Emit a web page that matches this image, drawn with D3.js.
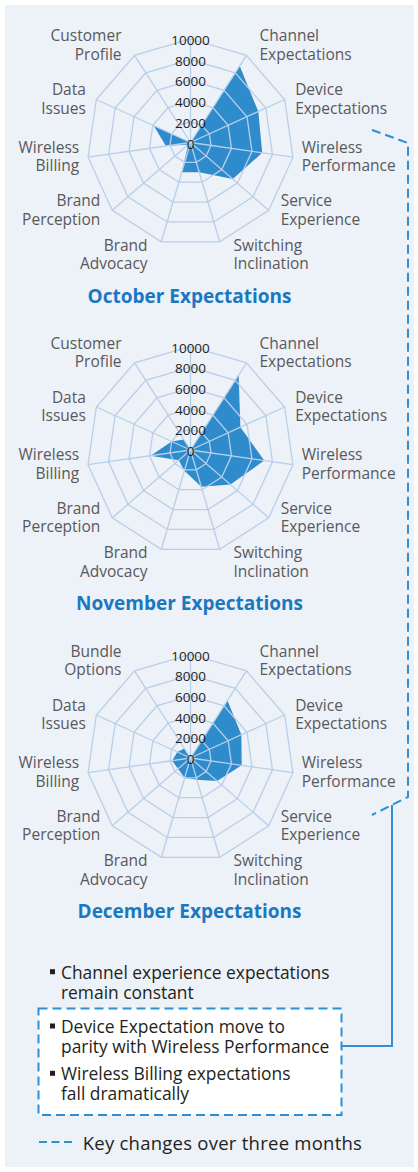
<!DOCTYPE html>
<html><head><meta charset="utf-8">
<script src="https://cdn.jsdelivr.net/npm/d3@7"></script>
<style>
html,body{margin:0;padding:0;background:#fff;}
svg{display:block;font-family:"Open Sans",sans-serif;}
</style></head><body>
<svg id="c" width="418" height="1172"></svg>
<script>
// ---- data ----
const axisLabels = [[""],["Channel","Expectations"],["Device","Expectations"],["Wireless","Performance"],["Service","Experience"],["Switching","Inclination"],["Brand","Advocacy"],["Brand","Perception"],["Wireless","Billing"],["Data","Issues"],["Customer","Profile"]];
const decemberLastLabel = ["Bundle","Options"];
// order: top, Channel, Device, Wireless Perf, Service, Switching, Brand Advocacy, Brand Perception, Wireless Billing, Data Issues, Customer Profile/Bundle
const octoberValues  = [0, 8800, 7200, 7000, 5400, 3000, 3000, 300, 2400, 3900, 0];
const novemberValues = [0, 8600, 5300, 7200, 5100, 3700, 2100, 1500, 3900, 2000, 1200];
const decemberValues = [0, 6600, 5400, 5000, 3400, 2200, 2000, 1600, 1800, 1400, 1100];
const tickValues = [0, 2000, 4000, 6000, 8000, 10000];
const chartTitles = ["October Expectations", "November Expectations", "December Expectations"];
const bulletTexts = [["Channel experience expectations","remain constant"],["Device Expectation move to","parity with Wireless Performance"],["Wireless Billing expectations","fall dramatically"]];
const legendText = "Key changes over three months";

// ---- drawing ----
const svg = d3.select("#c");
svg.append("rect").attr("x",5).attr("y",5).attr("width",409).attr("height",1162).attr("fill","#edf1f8");

const charts = [
  {title: chartTitles[0], values: octoberValues, labels: axisLabels},
  {title: chartTitles[1], values: novemberValues, labels: axisLabels},
  {title: chartTitles[2], values: decemberValues, labels: axisLabels.slice(0,10).concat([decemberLastLabel])}
];
const R = 103.5, cx = 190.5, cys = [142.5, 450, 758];
const n = axisLabels.length;
const ang = i => i * 2 * Math.PI / n;
const rScale = d3.scaleLinear().domain([0, 10000]).range([0, R]);
const radial = d3.lineRadial().angle((d,i) => ang(i)).radius(d => rScale(d)).curve(d3.curveLinearClosed);
const gridColor = "#b8cfea";

charts.forEach((ch, k) => {
  const g = svg.append("g").attr("transform", `translate(${cx},${cys[k]})`);
  g.append("path").attr("d", radial(ch.values)).attr("fill", "#2e8bcc");
  tickValues.slice(1).forEach(t => {
    g.append("path").attr("d", radial(d3.range(n).map(() => t)))
      .attr("fill","none").attr("stroke",gridColor).attr("stroke-width",1.3);
  });
  d3.range(n).forEach(i => {
    const a = ang(i);
    g.append("line").attr("x1",0).attr("y1",0)
      .attr("x2", rScale(10000)*Math.sin(a)).attr("y2", -rScale(10000)*Math.cos(a))
      .attr("stroke",gridColor).attr("stroke-width",1.3);
  });
  // axis labels
  ch.labels.forEach((lines, i) => {
    if (!lines[0]) return;
    const a = ang(i), s = Math.sin(a), c = Math.cos(a);
    const vx = R*s, vy = -R*c;
    const sg = s > 0 ? 1 : -1;
    const dx = sg * (8 + 6*Math.abs(c));
    const dy = c > 0.7 ? -11 : (c < -0.7 ? 12 : -1);
    const lh = 18.5;
    const t = g.append("text").attr("text-anchor", sg > 0 ? "start" : "end")
      .attr("font-size", 15.5).attr("fill", "#58595b");
    lines.forEach((ln, j) => {
      t.append("tspan").attr("x", vx+dx).attr("y", vy+dy + (j - (lines.length-1)/2)*lh)
        .attr("dominant-baseline","central").text(ln);
    });
  });
  // tick labels
  tickValues.forEach(tv => {
    g.append("text").attr("x",0).attr("y",-rScale(tv)+1)
      .attr("text-anchor","middle").attr("dominant-baseline","central")
      .attr("font-size",13.5).attr("fill","#231f20").text(tv);
  });
  g.append("text").attr("x",-1).attr("y",153).attr("text-anchor","middle")
    .attr("dominant-baseline","central").attr("font-size",19).attr("font-weight",700)
    .attr("fill","#1a78c2").text(ch.title);
});

// connectors
const blue = "#2d8fd5";
svg.append("path").attr("d","M372,130 L408,143 L408,797 L372,815")
  .attr("fill","none").attr("stroke",blue).attr("stroke-width",2).attr("stroke-dasharray","9,5");
svg.append("path").attr("d","M392,805 L392,1046 L342,1046")
  .attr("fill","none").attr("stroke",blue).attr("stroke-width",2);
svg.append("rect").attr("x",38.5).attr("y",1008.5).attr("width",303).attr("height",106.5)
  .attr("fill","#fff").attr("stroke",blue).attr("stroke-width",2).attr("stroke-dasharray","9,5");

const bulletY = [971.7, 1026, 1073.3];
bulletTexts.forEach((lines, i) => {
  svg.append("rect").attr("x",50).attr("y",bulletY[i]-2.5).attr("width",5).attr("height",5).attr("fill","#231f20");
  const t = svg.append("text").attr("font-size",17.4).attr("fill","#231f20");
  lines.forEach((ln,j) => t.append("tspan").attr("x",61).attr("y",bulletY[i]+j*20)
    .attr("dominant-baseline","central").text(ln));
});
svg.append("line").attr("x1",39).attr("x2",74).attr("y1",1142).attr("y2",1142)
  .attr("stroke",blue).attr("stroke-width",2).attr("stroke-dasharray","8,4.5");
svg.append("text").attr("x",82.7).attr("y",1142).attr("dominant-baseline","central")
  .attr("font-size",18.5).attr("letter-spacing",0.25).attr("fill","#231f20").text(legendText);
</script>
</body></html>
